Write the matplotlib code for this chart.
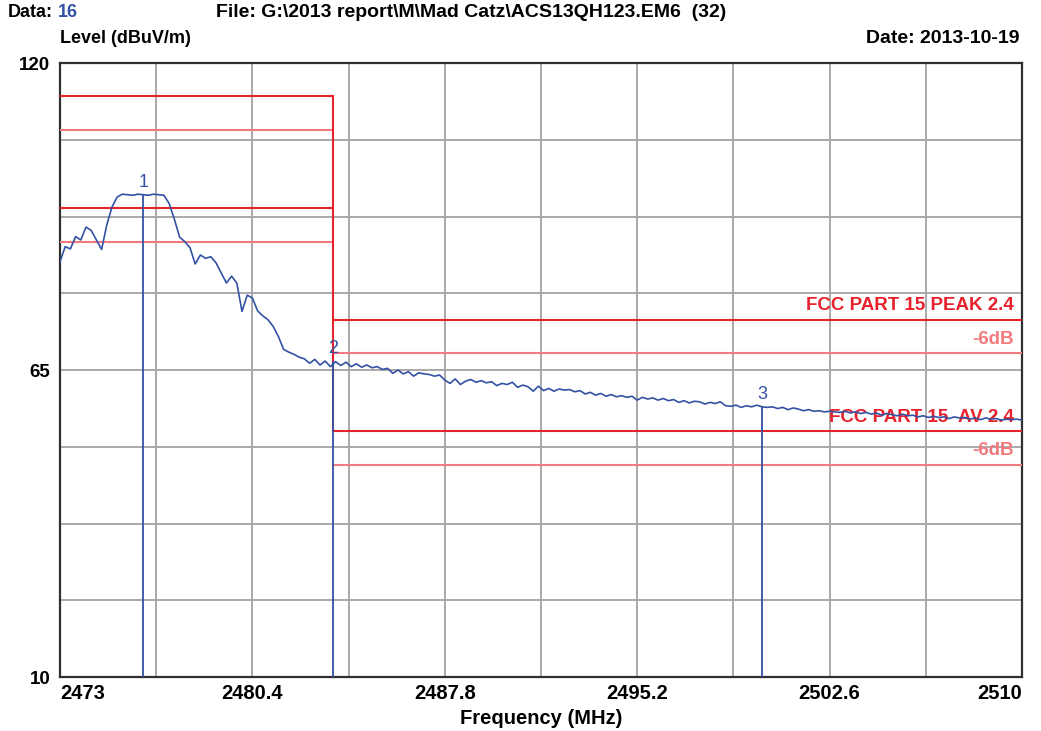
import matplotlib
matplotlib.use("Agg")
import matplotlib.pyplot as plt
import numpy as np

# Spectrum sweep 2473 - 2510 MHz (0.2 MHz steps), level in dBuV/m
f_start, f_stop = 2473.0, 2510.0
level = [
    84.4, 87.1, 86.7, 88.9, 88.3,  90.6, 90.0, 88.3, 86.6, 91.0,
    94.2, 96.0, 96.5, 96.4, 96.3,  96.5, 96.4, 96.3, 96.5, 96.4,
    96.3, 94.8, 92.0, 88.8, 88.0,  86.9, 84.0, 85.6, 85.0, 85.3,
    84.2, 82.4, 80.6, 81.8, 80.6,  75.5, 78.4, 77.9, 75.6, 74.7,
    74.0, 72.8, 71.0, 68.7, 68.2,  67.8, 67.3, 67.0, 66.2, 66.9,
    65.9, 66.6, 65.6, 66.5, 65.8,  66.4, 65.6, 66.1, 65.5, 65.9,
    65.4, 65.6, 65.1, 65.3, 64.4,  65.0, 64.3, 64.7, 63.9, 64.5,
    64.3, 64.2, 63.9, 64.1, 63.2,  62.6, 63.4, 62.4, 63.0, 63.3,
    62.8, 63.1, 62.7, 62.9, 62.2,  62.6, 62.4, 62.8, 61.9, 62.3,
    62.0, 61.2, 62.1, 61.3, 61.7,  61.2, 61.6, 61.4, 61.5, 61.1,
    61.3, 60.7, 61.0, 60.5, 60.8,  60.3, 60.6, 60.2, 60.4, 60.1,
    60.3, 59.6, 60.1, 59.8, 60.0,  59.6, 59.9, 59.5, 59.7, 59.2,
    59.5, 59.1, 59.4, 59.3, 58.9,  59.2, 59.0, 59.3, 58.6, 58.5,
    58.7, 58.3, 58.6, 58.4, 58.7,  58.4, 58.3, 58.4, 58.1, 58.3,
    57.9, 58.2, 58.0, 57.7, 57.9,  57.6, 57.7, 57.5, 57.6, 57.5,
    57.4, 57.6, 57.3, 57.5, 57.2,  57.4, 57.1, 57.3, 56.9, 57.2,
    57.0, 56.8, 57.1, 56.8, 56.9,  56.6, 56.8, 56.5, 56.7, 56.5,
    56.6, 56.3, 56.6, 56.4, 56.5,  56.2, 56.4, 56.1, 56.4, 56.2,
    56.3, 56.0, 56.2, 56.1, 56.2,  56.0,
]
freq = np.linspace(f_start, f_stop, len(level))

marker_freq = [2476.2, 2483.5, 2500.0]
marker_level = [96.4, 66.5, 58.4]
marker_id = ["1", "2", "3"]

band_edge = 2483.5
inband_limits = [114, 108, 94, 88]
restricted_limits = [74, 68, 54, 48]
limit_is_main = [True, False, True, False]
limit_names = ["FCC PART 15 PEAK 2.4", "-6dB", "FCC PART 15  AV 2.4", "-6dB"]

xtick_major = [2473, 2480.4, 2487.8, 2495.2, 2502.6, 2510]
xtick_minor = [2476.7, 2484.1, 2491.5, 2498.9, 2506.3]
ytick_major = [10, 65, 120]
ytick_minor = [23.75, 37.5, 51.25, 78.75, 92.5, 106.25]

RED = "#e8222c"
LRED = "#f27a7e"
BLUE = "#3352a3"
FONT = "Liberation Sans"

W, H = 1041, 731
fig = plt.figure(figsize=(W / 100, H / 100), dpi=100)
ax = fig.add_axes([60 / W, 1 - 677 / H, (1022 - 60) / W, (677 - 63) / H])

ax.set_xlim(f_start, f_stop)
ax.set_ylim(10, 120)
ax.set_xticks(xtick_major)
ax.set_xticks(xtick_minor, minor=True)
ax.set_yticks(ytick_major)
ax.set_yticks(ytick_minor, minor=True)
ax.set_xticklabels([f"{v:g}" for v in xtick_major], fontsize=14.5, fontweight="bold", family=FONT)
ax.set_yticklabels([f"{v:g}" for v in ytick_major], fontsize=13.5, fontweight="bold", family=FONT)
ax.tick_params(axis="x", which="both", length=0, pad=5)
ax.tick_params(axis="y", which="both", length=0, pad=7)
ax.grid(which="both", color="#a9a9a9", linewidth=1.4, zorder=0)
ax.set_axisbelow(True)
for s in ax.spines.values():
    s.set_color("#303030")
    s.set_linewidth(1.6)

xl = ax.get_xticklabels()
xl[0].set_ha("left")
xl[-1].set_ha("right")

# limit lines
for lim, main in zip(inband_limits, limit_is_main):
    ax.plot([f_start, band_edge], [lim, lim], color=RED if main else LRED, lw=1.5, zorder=3)
for lim, main, name in zip(restricted_limits, limit_is_main, limit_names):
    c = RED if main else LRED
    ax.plot([band_edge, f_stop], [lim, lim], color=c, lw=1.5, zorder=3)
    ax.annotate(name, xy=(f_stop, lim), xytext=(-6, 4), textcoords="offset points",
                ha="right", va="bottom", color=c, fontsize=13.5, fontweight="bold",
                family=FONT, zorder=4)
ax.plot([band_edge, band_edge], [restricted_limits[2], inband_limits[0]], color=RED, lw=1.5, zorder=3)

# trace
ax.plot(freq, level, color=BLUE, lw=1.2, zorder=5)

# markers
for mf, ml, mid in zip(marker_freq, marker_level, marker_id):
    ax.plot([mf, mf], [10, ml], color=BLUE, lw=1.3, zorder=5)
    ax.annotate(mid, xy=(mf, ml), xytext=(0, 3), textcoords="offset points",
                ha="center", va="bottom", color=BLUE, fontsize=13, family=FONT, zorder=6)

ax.set_xlabel("Frequency (MHz)", fontsize=14.5, fontweight="bold", family=FONT, labelpad=4)

# header texts
def px(x, y):
    return x / W, 1 - y / H

fig.text(*px(8, 4), "Data:", ha="left", va="top", fontsize=13, fontweight="bold", family=FONT)
fig.text(*px(58, 4), "16", ha="left", va="top", fontsize=13, fontweight="bold", family=FONT, color=BLUE)
fig.text(*px(216, 4), "File: G:\\2013 report\\M\\Mad Catz\\ACS13QH123.EM6  (32)", ha="left", va="top",
         fontsize=14, fontweight="bold", family=FONT)
fig.text(*px(60, 30), "Level (dBuV/m)", ha="left", va="top", fontsize=13, fontweight="bold", family=FONT)
fig.text(*px(1020, 30), "Date: 2013-10-19", ha="right", va="top", fontsize=14, fontweight="bold", family=FONT)

fig.savefig("out.png", dpi=100)
